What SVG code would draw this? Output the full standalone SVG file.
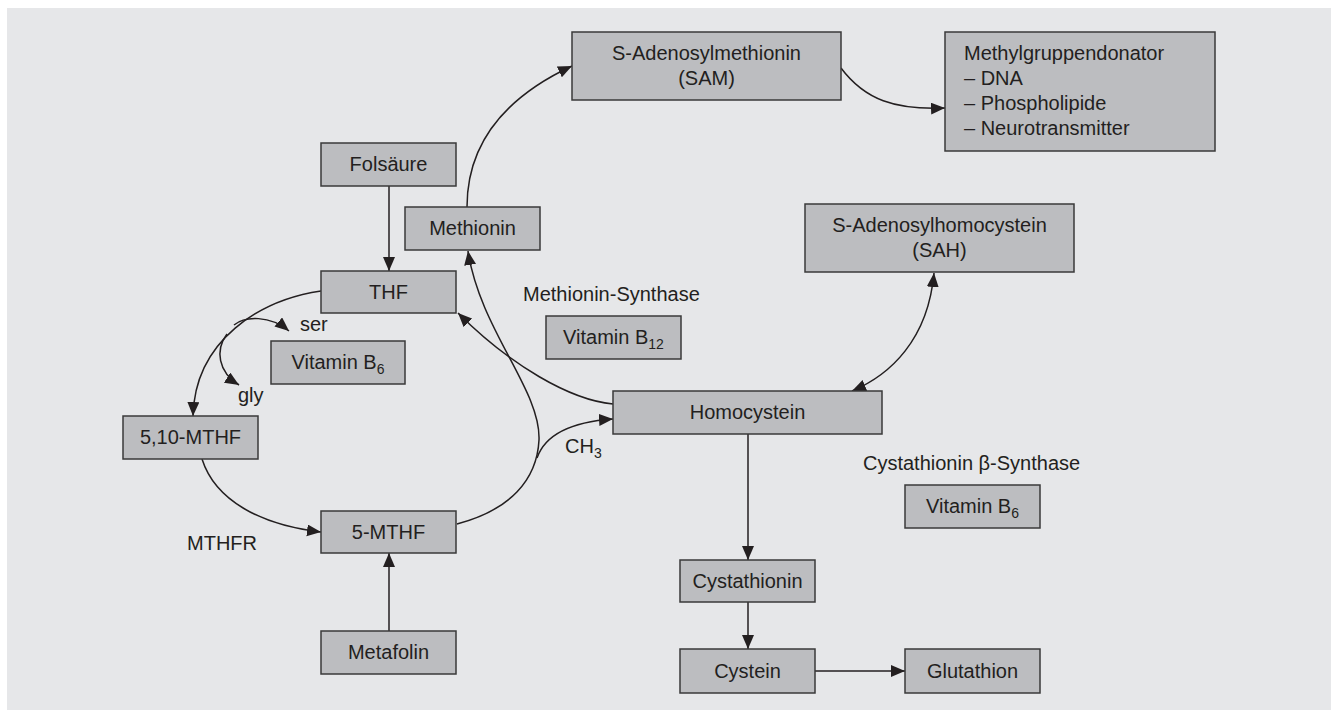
<svg xmlns="http://www.w3.org/2000/svg" width="1331" height="710" viewBox="0 0 1331 710">
<style>
.box{fill:#bcbdc0;stroke:#3a3a3a;stroke-width:1.5}
text{font-family:"Liberation Sans",Arial,sans-serif;font-size:20px;fill:#231f20}
.c{text-anchor:middle}
.ln{fill:none;stroke:#231f20;stroke-width:1.5}
.ar{marker-end:url(#ah)}
</style>
<defs>
<marker id="ah" markerUnits="userSpaceOnUse" markerWidth="15" markerHeight="13" refX="14" refY="6" orient="auto-start-reverse" viewBox="0 0 15 13">
<path d="M0,0 L14,6 L0,12 z" fill="#231f20"/>
</marker>
</defs>
<rect x="7" y="8" width="1324" height="702" fill="#e6e7e9"/>

<g id="connectors">
<path class="ln ar" d="M389,186 L389,271"/>
<path class="ln ar" d="M389,631 L389,553"/>
<path class="ln ar" d="M467,207 C467,140 510,95 572,66"/>
<path class="ln ar" d="M841,68 C865,100 895,110 945,108"/>
<path class="ln ar" d="M613,404 C570,400 510,365 458,313"/>
<path class="ln ar" d="M457,524 C510,510 537,480 539,440 C541,390 480,330 468,251"/>
<path class="ln ar" d="M537,458 C545,435 570,422 613,419"/>
<path class="ln ar" d="M321,291 C260,300 195,340 193,416"/>
<path class="ln ar" d="M234,325 C245,316 270,315 289,331"/>
<path class="ln ar" d="M227,334 C215,350 218,372 239,385"/>
<path class="ln ar" d="M202,459 C215,500 260,525 321,532"/>
<path class="ln ar" d="M934,273 C928,340 890,375 852,391" marker-start="url(#ah)"/>
<path class="ln ar" d="M748,434 L748,560"/>
<path class="ln ar" d="M748,602 L748,649"/>
<path class="ln ar" d="M815,671 L905,671"/>
</g>

<g id="sam"><rect class="box" x="572" y="32" width="269" height="68"/><text class="c" x="706.5" y="60">S-Adenosylmethionin</text><text class="c" x="706.5" y="85">(SAM)</text></g>
<g id="methylgruppendonator"><rect class="box" x="945" y="32" width="270" height="119"/><text x="964" y="60">Methylgruppendonator</text><text x="964" y="85">– DNA</text><text x="964" y="110">– Phospholipide</text><text x="964" y="135">– Neurotransmitter</text></g>
<g id="sah"><rect class="box" x="805" y="204" width="269" height="68"/><text class="c" x="939.5" y="232">S-Adenosylhomocystein</text><text class="c" x="939.5" y="257">(SAH)</text></g>
<g id="folsaeure"><rect class="box" x="321" y="143" width="135" height="43"/><text class="c" x="388.5" y="171">Folsäure</text></g>
<g id="methionin"><rect class="box" x="405" y="207" width="135" height="43"/><text class="c" x="472.5" y="235">Methionin</text></g>
<g id="thf"><rect class="box" x="321" y="271" width="135" height="42"/><text class="c" x="388.5" y="299">THF</text></g>
<g id="vitb6-left"><rect class="box" x="271" y="341" width="134" height="43"/><text class="c" x="338" y="369">Vitamin B<tspan dy="5" font-size="14">6</tspan></text></g>
<g id="vitb12"><rect class="box" x="546" y="316" width="135" height="43"/><text class="c" x="613.5" y="344">Vitamin B<tspan dy="5" font-size="14">12</tspan></text></g>
<g id="mthf510"><rect class="box" x="123" y="416" width="135" height="43"/><text class="c" x="190.5" y="444">5,10-MTHF</text></g>
<g id="homocystein"><rect class="box" x="613" y="391" width="269" height="43"/><text class="c" x="747.5" y="419">Homocystein</text></g>
<g id="mthf5"><rect class="box" x="321" y="511" width="135" height="42"/><text class="c" x="388.5" y="539">5-MTHF</text></g>
<g id="metafolin"><rect class="box" x="321" y="631" width="135" height="43"/><text class="c" x="388.5" y="659">Metafolin</text></g>
<g id="cystathionin"><rect class="box" x="680" y="560" width="135" height="42"/><text class="c" x="747.5" y="588">Cystathionin</text></g>
<g id="cystein"><rect class="box" x="680" y="649" width="135" height="44"/><text class="c" x="747.5" y="678">Cystein</text></g>
<g id="glutathion"><rect class="box" x="905" y="649" width="135" height="44"/><text class="c" x="972.5" y="678">Glutathion</text></g>
<g id="vitb6-right"><rect class="box" x="905" y="485" width="135" height="43"/><text class="c" x="972.5" y="513">Vitamin B<tspan dy="5" font-size="14">6</tspan></text></g>

<g id="labels">
<text x="523" y="301">Methionin-Synthase</text>
<text x="863" y="470">Cystathionin β-Synthase</text>
<text x="187" y="550">MTHFR</text>
<text x="300" y="331">ser</text>
<text x="238" y="402">gly</text>
<text x="565" y="453">CH<tspan dy="5" font-size="14">3</tspan></text>
</g>
</svg>
